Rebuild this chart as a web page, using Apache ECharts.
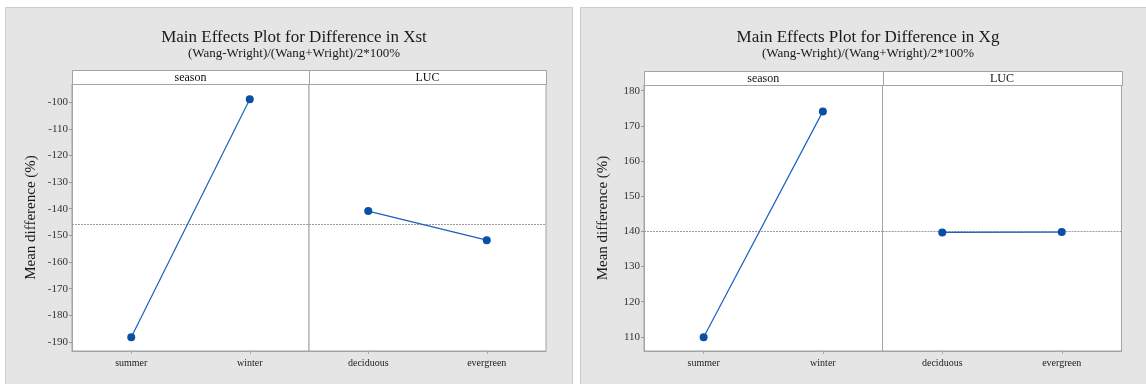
<!DOCTYPE html>
<html>
<head>
<meta charset="utf-8">
<script src="https://cdn.jsdelivr.net/npm/echarts@6/dist/echarts.min.js"></script>
<style>
  html, body { margin: 0; padding: 0; background: #ffffff; }
  #chart { width: 1146px; height: 384px; }
</style>
</head>
<body>
<div id="chart"></div>
<script>
// Factor levels
const seasonLevels = ['summer', 'winter'];
const lucLevels = ['deciduous', 'evergreen'];

// Mean difference (%) in Xst by factor level
const xstSeason = [-188.2, -98.9];
const xstLuc = [-140.9, -151.8];
const xstGrandMean = -146.0;

// Mean difference (%) in Xg by factor level
const xgSeason = [109.9, 174.1];
const xgLuc = [139.7, 139.8];
const xgGrandMean = 140.1;

// Panel titles
const titles = ['Main Effects Plot for Difference in Xst', 'Main Effects Plot for Difference in Xg'];
const subtitle = '(Wang-Wright)/(Wang+Wright)/2*100%';
const factorNames = ['season', 'LUC'];
const yName = 'Mean difference (%)';

const SERIF = '"Liberation Serif", "DejaVu Serif", serif';
const LINE_COLOR = '#1b5fc1';
const DOT_COLOR = '#0a4fa6';
const FRAME = '#a3a3a3';

// Layout of the two panels
const panels = [
  { bgX: 5, bgW: 567, cx: 289, left: 72, w1: 237, w2: 237, top: 84, bottom: 351, stripTop: 70,
    min: -193.4, max: -93.2, season: xstSeason, luc: xstLuc, mean: xstGrandMean },
  { bgX: 580, bgW: 570, cx: 863, left: 644, w1: 238.5, w2: 239, top: 85, bottom: 351, stripTop: 71,
    min: 106.0, max: 181.6, season: xgSeason, luc: xgLuc, mean: xgGrandMean }
];

const grids = [], xAxes = [], yAxes = [], series = [], graphics = [], titleList = [];

panels.forEach((p, pi) => {
  // panel background
  graphics.push({
    type: 'rect', z: -10, silent: true,
    shape: { x: p.bgX + 0.5, y: 7.5, width: p.bgW, height: 400 },
    style: { fill: '#e5e5e5', stroke: '#cbcbcb', lineWidth: 1 }
  });
  // factor strip
  const stripH = p.top - p.stripTop;
  [[p.left, p.w1], [p.left + p.w1, p.w2]].forEach((seg, si) => {
    graphics.push({
      type: 'rect', z: 5, silent: true,
      shape: { x: Math.round(seg[0]) + 0.5, y: p.stripTop + 0.5, width: Math.round(seg[1]), height: stripH },
      style: { fill: '#ffffff', stroke: FRAME, lineWidth: 1 }
    });
    graphics.push({
      type: 'text', z: 6, silent: true,
      x: seg[0] + seg[1] / 2, y: p.stripTop + stripH / 2 + 0.5,
      style: { text: factorNames[si], font: '12px ' + SERIF, fill: '#111', align: 'center', verticalAlign: 'middle' }
    });
  });

  titleList.push({
    text: titles[pi], subtext: subtitle,
    left: p.cx, top: 24, textAlign: 'center', itemGap: 1,
    textStyle: { fontFamily: SERIF, fontSize: 17, fontWeight: 'normal', color: '#1a1a1a' },
    subtextStyle: { fontFamily: SERIF, fontSize: 13, color: '#1a1a1a' }
  });

  const h = p.bottom - p.top;
  const cats = [seasonLevels, lucLevels];
  const vals = [p.season, p.luc];
  [0, 1].forEach(k => {
    const gi = grids.length;
    grids.push({
      left: k === 0 ? p.left : p.left + p.w1, top: p.top, width: k === 0 ? p.w1 : p.w2, height: h,
      show: true, backgroundColor: '#ffffff', borderColor: FRAME, borderWidth: 1, containLabel: false
    });
    xAxes.push({
      gridIndex: gi, type: 'category', data: cats[k], boundaryGap: true,
      axisLine: { show: true, lineStyle: { color: FRAME } },
      axisTick: { show: true, alignWithLabel: true, length: 3, lineStyle: { color: '#aaa' } },
      axisLabel: { fontFamily: SERIF, fontSize: 10, color: '#222', margin: 7 },
      splitLine: { show: false }
    });
    yAxes.push({
      gridIndex: gi, type: 'value', min: p.min, max: p.max, splitNumber: 10,
      name: k === 0 ? yName : '', nameLocation: 'middle', nameGap: 33,
      nameTextStyle: { fontFamily: SERIF, fontSize: 15, color: '#1a1a1a' },
      axisLine: { show: k === 0, lineStyle: { color: FRAME } },
      axisTick: { show: k === 0, length: 3, lineStyle: { color: '#999' } },
      axisLabel: { show: k === 0, fontFamily: SERIF, fontSize: 11, color: '#333', margin: 4,
                   showMinLabel: false, showMaxLabel: false },
      splitLine: { show: false }
    });
    series.push({
      type: 'line', xAxisIndex: gi, yAxisIndex: gi, data: vals[k],
      symbol: 'circle', symbolSize: 8, z: 4,
      lineStyle: { color: LINE_COLOR, width: 1.2 },
      itemStyle: { color: DOT_COLOR },
      emphasis: { disabled: true },
      markLine: {
        silent: true, symbol: 'none', label: { show: false }, z: 1,
        lineStyle: { color: '#9a9a9a', type: [2, 1], width: 1 },
        data: [{ yAxis: p.mean }]
      }
    });
  });
});

const chart = echarts.init(document.getElementById('chart'), null, { renderer: 'canvas' });
chart.setOption({
  animation: false,
  backgroundColor: '#ffffff',
  title: titleList,
  grid: grids,
  xAxis: xAxes,
  yAxis: yAxes,
  series: series,
  graphic: graphics
});
</script>
</body>
</html>
